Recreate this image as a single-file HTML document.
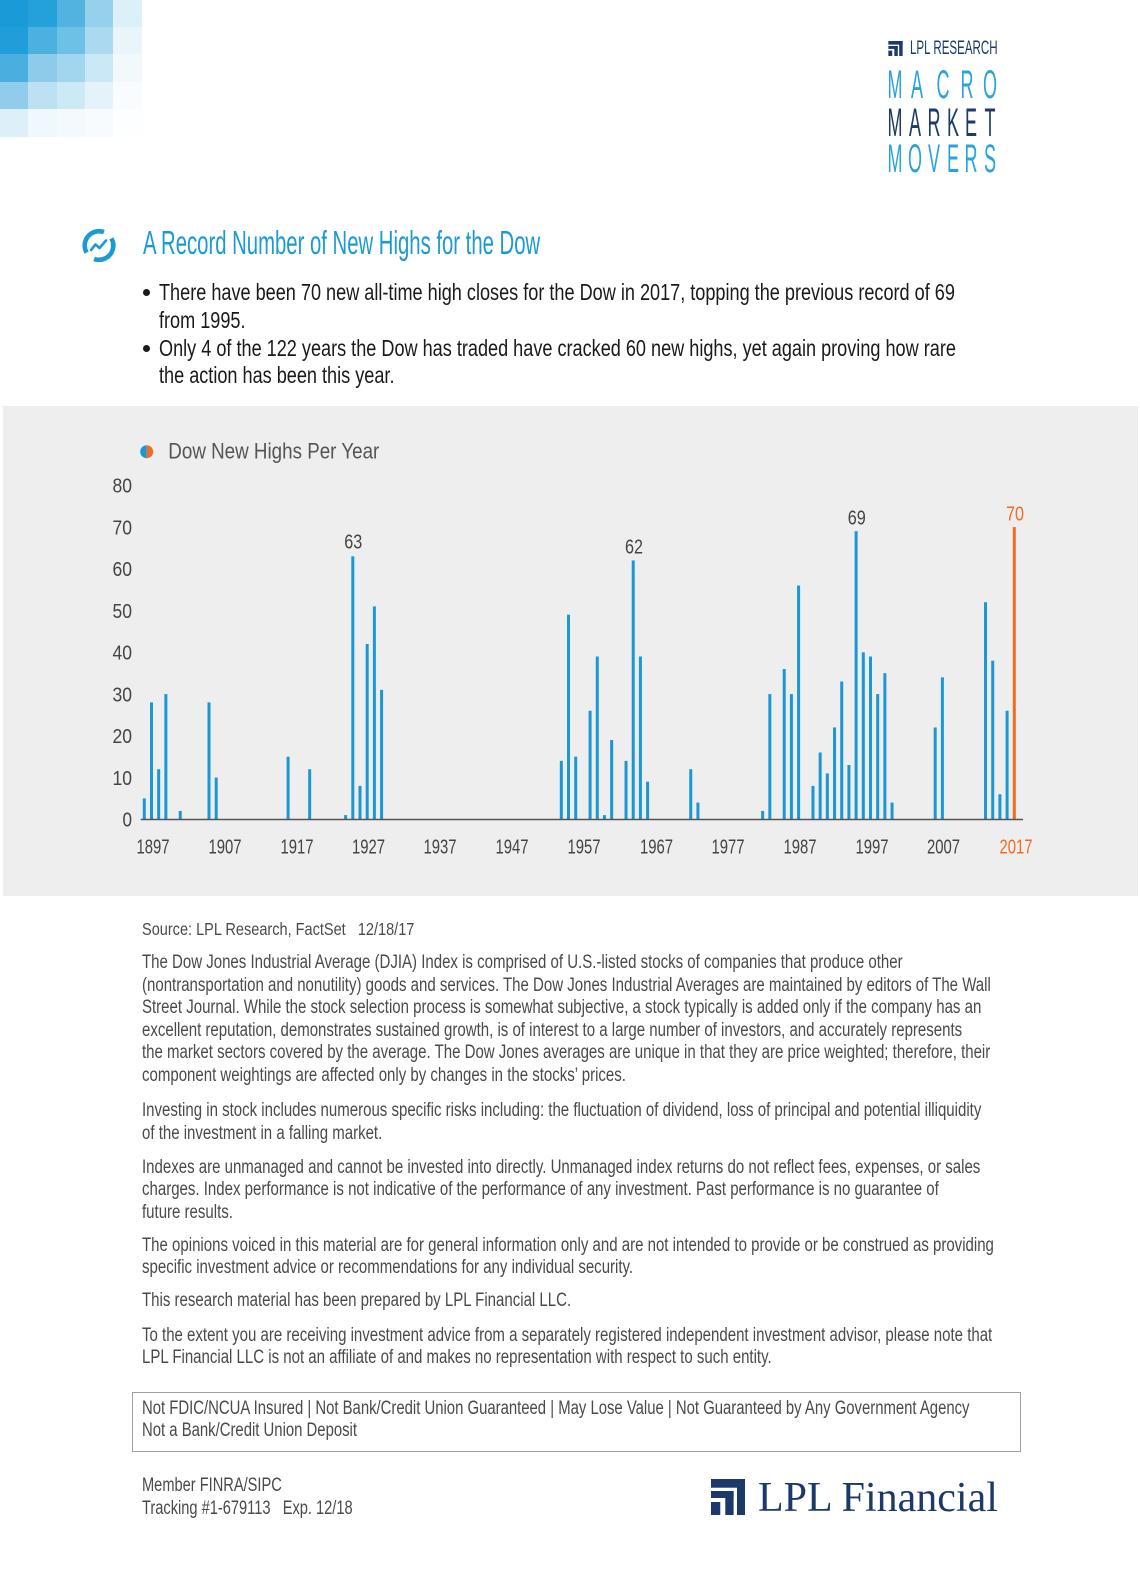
<!DOCTYPE html>
<html><head><meta charset="utf-8">
<style>
html,body{margin:0;padding:0;background:#fff;}
body{width:1140px;height:1592px;position:relative;overflow:hidden;}
.t{position:absolute;white-space:nowrap;font-family:"Liberation Sans Narrow","Liberation Sans",sans-serif;transform-origin:0 0;}
.sq{position:absolute;width:29px;height:28px;}
.L{position:absolute;width:40px;text-align:center;font-family:"Liberation Sans Narrow","Liberation Sans",sans-serif;font-size:40px;line-height:40px;transform:scaleX(0.45);transform-origin:50% 50%;}
.dot{position:absolute;width:7px;height:7px;border-radius:50%;background:#1a1a1a;}
</style></head><body>

<!-- top-left gradient squares -->
<div class="sq" style="left:0;top:0;background:#1a9ad6"></div>
<div class="sq" style="left:28px;top:0;background:#24a0da"></div>
<div class="sq" style="left:57px;top:0;background:#52b3e0"></div>
<div class="sq" style="left:85px;top:0;background:#95d0ec"></div>
<div class="sq" style="left:113px;top:0;background:#dcf0f9"></div>
<div class="sq" style="left:0;top:27px;background:#209ed9"></div>
<div class="sq" style="left:28px;top:27px;background:#4db1df"></div>
<div class="sq" style="left:57px;top:27px;background:#6dc0e6"></div>
<div class="sq" style="left:85px;top:27px;background:#abdaf0"></div>
<div class="sq" style="left:113px;top:27px;background:#e8f5fb"></div>
<div class="sq" style="left:0;top:54px;background:#4aafdf"></div>
<div class="sq" style="left:28px;top:54px;background:#8ecbea"></div>
<div class="sq" style="left:57px;top:54px;background:#a2d5ee"></div>
<div class="sq" style="left:85px;top:54px;background:#cbe8f6"></div>
<div class="sq" style="left:113px;top:54px;background:#f2f9fd"></div>
<div class="sq" style="left:0;top:82px;background:#91cdeb"></div>
<div class="sq" style="left:28px;top:82px;background:#bbe1f3"></div>
<div class="sq" style="left:57px;top:82px;background:#cce9f6"></div>
<div class="sq" style="left:85px;top:82px;background:#e4f3fa"></div>
<div class="sq" style="left:113px;top:82px;background:#f8fcfe"></div>
<div class="sq" style="left:0;top:109px;background:#ddf0f9"></div>
<div class="sq" style="left:28px;top:109px;background:#eff8fc"></div>
<div class="sq" style="left:57px;top:109px;background:#f3f9fd"></div>
<div class="sq" style="left:85px;top:109px;background:#f7fbfe"></div>
<div class="sq" style="left:113px;top:109px;background:#fcfeff"></div>

<!-- header logo -->
<svg style="position:absolute;left:888px;top:41px" width="15" height="15" viewBox="0 0 34.3 36">
<g fill="#1e3a6b"><rect x="0" y="0" width="34.3" height="8.7"/><rect x="26" y="0" width="8.3" height="36"/><rect x="0" y="12" width="22.6" height="7"/><rect x="14.3" y="12" width="8.3" height="24"/><rect x="0" y="23" width="9.3" height="13"/></g></svg>
<div class="t" style="left:910px;top:38px;font-size:19.5px;line-height:20px;color:#1e3a6b;transform:scaleX(0.593)">LPL RESEARCH</div>

<div style="color:#2aa3dc">
<div class="L" style="left:875px;top:65px">M</div>
<div class="L" style="left:896.5px;top:65px">A</div>
<div class="L" style="left:922.5px;top:65px">C</div>
<div class="L" style="left:946.7px;top:65px">R</div>
<div class="L" style="left:969.7px;top:65px">O</div>
</div>
<div style="color:#1e3a66">
<div class="L" style="left:875px;top:102.5px">M</div>
<div class="L" style="left:894.5px;top:102.5px">A</div>
<div class="L" style="left:914px;top:102.5px">R</div>
<div class="L" style="left:932.5px;top:102.5px">K</div>
<div class="L" style="left:951px;top:102.5px">E</div>
<div class="L" style="left:969.5px;top:102.5px">T</div>
</div>
<div style="color:#2aa3dc">
<div class="L" style="left:875px;top:139px">M</div>
<div class="L" style="left:894.5px;top:139px">O</div>
<div class="L" style="left:914px;top:139px">V</div>
<div class="L" style="left:932.5px;top:139px">E</div>
<div class="L" style="left:951px;top:139px">R</div>
<div class="L" style="left:969.5px;top:139px">S</div>
</div>

<!-- title icon -->
<svg style="position:absolute;left:80px;top:226px" width="40" height="40" viewBox="80 226 40 40">
<circle cx="99" cy="245.5" r="14.3" fill="none" stroke="#1a9ad6" stroke-width="4.6" stroke-dasharray="34.9 10" transform="rotate(-30 99 245.5)"/>
<polyline points="91,250 95.5,244.5 99.5,248 106,240.5" fill="none" stroke="#1a9ad6" stroke-width="2.6" stroke-linecap="round" stroke-linejoin="round"/>
</svg>
<div class="t" style="left:142.7px;top:224px;font-size:33.5px;line-height:40px;color:#1b9ad6;transform:scaleX(0.606)">A Record Number of New Highs for the Dow</div>

<!-- bullets -->
<div class="dot" style="left:143.2px;top:289.2px"></div>
<div class="dot" style="left:143.2px;top:344.8px"></div>
<div class="t" style="left:159.3px;top:279.4px;font-size:23px;line-height:27.3px;color:#1a1a1a;transform:scaleX(0.787)">There have been 70 new all-time high closes for the Dow in 2017, topping the previous record of 69<br>from 1995.</div>
<div class="t" style="left:159.3px;top:335.1px;font-size:23px;line-height:27.3px;color:#1a1a1a;transform:scaleX(0.787)">Only 4 of the 122 years the Dow has traded have cracked 60 new highs, yet again proving how rare<br>the action has been this year.</div>

<!-- chart band -->
<div style="position:absolute;left:3px;top:406px;width:1135px;height:490px;background:#eeeeee"></div>

<svg style="position:absolute;left:0;top:0" width="1140" height="900" viewBox="0 0 1140 900">
<g font-family="'Liberation Sans Narrow','Liberation Sans',sans-serif">
<!-- legend -->
<path d="M146.7,445.2 A6.5,6.5 0 0 0 146.7,458.2 Z" fill="#1a97d5"/>
<path d="M146.7,445.2 A6.5,6.5 0 0 1 146.7,458.2 Z" fill="#f26b21"/>
<text x="168.3" y="458.3" font-size="22" fill="#555" textLength="211" lengthAdjust="spacingAndGlyphs">Dow New Highs Per Year</text>
<!-- y labels -->
<g font-size="20" fill="#444" text-anchor="end">
<text x="132" y="826.5" textLength="9.5" lengthAdjust="spacingAndGlyphs">0</text>
<text x="132" y="784.75" textLength="19.5" lengthAdjust="spacingAndGlyphs">10</text>
<text x="132" y="743" textLength="19.5" lengthAdjust="spacingAndGlyphs">20</text>
<text x="132" y="701.25" textLength="19.5" lengthAdjust="spacingAndGlyphs">30</text>
<text x="132" y="659.5" textLength="19.5" lengthAdjust="spacingAndGlyphs">40</text>
<text x="132" y="617.75" textLength="19.5" lengthAdjust="spacingAndGlyphs">50</text>
<text x="132" y="576" textLength="19.5" lengthAdjust="spacingAndGlyphs">60</text>
<text x="132" y="534.25" textLength="19.5" lengthAdjust="spacingAndGlyphs">70</text>
<text x="132" y="492.5" textLength="19.5" lengthAdjust="spacingAndGlyphs">80</text>
</g>
<!-- x labels -->
<g font-size="20" fill="#444" text-anchor="middle">
<text x="153" y="853.5" textLength="33" lengthAdjust="spacingAndGlyphs">1897</text>
<text x="225" y="853.5" textLength="33" lengthAdjust="spacingAndGlyphs">1907</text>
<text x="297" y="853.5" textLength="33" lengthAdjust="spacingAndGlyphs">1917</text>
<text x="368.5" y="853.5" textLength="33" lengthAdjust="spacingAndGlyphs">1927</text>
<text x="440" y="853.5" textLength="33" lengthAdjust="spacingAndGlyphs">1937</text>
<text x="512" y="853.5" textLength="33" lengthAdjust="spacingAndGlyphs">1947</text>
<text x="584" y="853.5" textLength="33" lengthAdjust="spacingAndGlyphs">1957</text>
<text x="656.5" y="853.5" textLength="33" lengthAdjust="spacingAndGlyphs">1967</text>
<text x="728" y="853.5" textLength="33" lengthAdjust="spacingAndGlyphs">1977</text>
<text x="800" y="853.5" textLength="33" lengthAdjust="spacingAndGlyphs">1987</text>
<text x="872" y="853.5" textLength="33" lengthAdjust="spacingAndGlyphs">1997</text>
<text x="943.5" y="853.5" textLength="33" lengthAdjust="spacingAndGlyphs">2007</text>
<text x="1016" y="853.5" fill="#f26b21" textLength="33" lengthAdjust="spacingAndGlyphs">2017</text>
</g>
<!-- bars -->
<g fill="#1a97d5">
<rect x="142.8" y="798.4" width="3" height="20.9"/>
<rect x="149.99" y="702.4" width="3" height="116.9"/>
<rect x="157.18" y="769.2" width="3" height="50.1"/>
<rect x="164.37" y="694.05" width="3" height="125.25"/>
<rect x="178.75" y="810.95" width="3" height="8.35"/>
<rect x="207.51" y="702.4" width="3" height="116.9"/>
<rect x="214.7" y="777.55" width="3" height="41.75"/>
<rect x="286.6" y="756.7" width="3" height="62.6"/>
<rect x="308.17" y="769.2" width="3" height="50.1"/>
<rect x="344.12" y="815.1" width="3" height="4.2"/>
<rect x="351.31" y="556.3" width="3" height="263"/>
<rect x="358.5" y="785.9" width="3" height="33.4"/>
<rect x="365.69" y="643.95" width="3" height="175.35"/>
<rect x="372.88" y="606.4" width="3" height="212.9"/>
<rect x="380.07" y="689.9" width="3" height="129.4"/>
<rect x="559.82" y="760.85" width="3" height="58.45"/>
<rect x="567.01" y="614.7" width="3" height="204.6"/>
<rect x="574.2" y="756.7" width="3" height="62.6"/>
<rect x="588.58" y="710.75" width="3" height="108.55"/>
<rect x="595.77" y="656.5" width="3" height="162.8"/>
<rect x="602.96" y="815.1" width="3" height="4.2"/>
<rect x="610.15" y="740" width="3" height="79.3"/>
<rect x="624.53" y="760.85" width="3" height="58.45"/>
<rect x="631.72" y="560.45" width="3" height="258.85"/>
<rect x="638.91" y="656.5" width="3" height="162.8"/>
<rect x="646.1" y="781.7" width="3" height="37.6"/>
<rect x="689.24" y="769.2" width="3" height="50.1"/>
<rect x="696.43" y="802.6" width="3" height="16.7"/>
<rect x="761.14" y="810.95" width="3" height="8.35"/>
<rect x="768.33" y="694.05" width="3" height="125.25"/>
<rect x="782.71" y="669" width="3" height="150.3"/>
<rect x="789.9" y="694.05" width="3" height="125.25"/>
<rect x="797.09" y="585.5" width="3" height="233.8"/>
<rect x="811.47" y="785.9" width="3" height="33.4"/>
<rect x="818.66" y="752.5" width="3" height="66.8"/>
<rect x="825.85" y="773.4" width="3" height="45.9"/>
<rect x="833.04" y="727.45" width="3" height="91.85"/>
<rect x="840.23" y="681.5" width="3" height="137.8"/>
<rect x="847.42" y="765" width="3" height="54.3"/>
<rect x="854.61" y="531.2" width="3" height="288.1"/>
<rect x="861.8" y="652.3" width="3" height="167"/>
<rect x="868.99" y="656.5" width="3" height="162.8"/>
<rect x="876.18" y="694.05" width="3" height="125.25"/>
<rect x="883.37" y="673.2" width="3" height="146.1"/>
<rect x="890.56" y="802.6" width="3" height="16.7"/>
<rect x="933.7" y="727.45" width="3" height="91.85"/>
<rect x="940.89" y="677.35" width="3" height="141.95"/>
<rect x="984.03" y="602.2" width="3" height="217.1"/>
<rect x="991.22" y="660.65" width="3" height="158.65"/>
<rect x="998.41" y="794.25" width="3" height="25.05"/>
<rect x="1005.6" y="710.75" width="3" height="108.55"/>
</g>
<rect x="1012.79" y="527.05" width="3" height="292.25" fill="#f26b21"/>
<!-- axis -->
<line x1="140.7" y1="819.5" x2="1023" y2="819.5" stroke="#555" stroke-width="1.5"/>
<!-- data labels -->
<g font-size="20" fill="#444" text-anchor="middle">
<text x="353.3" y="548.7" textLength="18" lengthAdjust="spacingAndGlyphs">63</text>
<text x="634" y="553.7" textLength="18" lengthAdjust="spacingAndGlyphs">62</text>
<text x="856.7" y="524.3" textLength="18" lengthAdjust="spacingAndGlyphs">69</text>
<text x="1015" y="520.3" fill="#f26b21" textLength="18" lengthAdjust="spacingAndGlyphs">70</text>
</g>
</g>
</svg>

<!-- footer text -->
<div class="t" style="left:142px;top:918.4px;font-size:17.5px;line-height:22.5px;color:#4a4a4a;transform:scaleX(0.83)">Source: LPL Research, FactSet &nbsp; 12/18/17</div>
<div class="t" style="left:142px;top:952.2px;font-size:19px;line-height:22.5px;color:#4a4a4a;transform:scaleX(0.79)">The Dow Jones Industrial Average (DJIA) Index is comprised of U.S.-listed stocks of companies that produce other<br>(nontransportation and nonutility) goods and services. The Dow Jones Industrial Averages are maintained by editors of The Wall<br>Street Journal. While the stock selection process is somewhat subjective, a stock typically is added only if the company has an<br>excellent reputation, demonstrates sustained growth, is of interest to a large number of investors, and accurately represents<br>the market sectors covered by the average. The Dow Jones averages are unique in that they are price weighted; therefore, their<br>component weightings are affected only by changes in the stocks’ prices.</div>
<div class="t" style="left:142px;top:1100px;font-size:19px;line-height:22.5px;color:#4a4a4a;transform:scaleX(0.79)">Investing in stock includes numerous specific risks including: the fluctuation of dividend, loss of principal and potential illiquidity<br>of the investment in a falling market.</div>
<div class="t" style="left:142px;top:1156.7px;font-size:19px;line-height:22.5px;color:#4a4a4a;transform:scaleX(0.79)">Indexes are unmanaged and cannot be invested into directly. Unmanaged index returns do not reflect fees, expenses, or sales<br>charges. Index performance is not indicative of the performance of any investment. Past performance is no guarantee of<br>future results.</div>
<div class="t" style="left:142px;top:1234.7px;font-size:19px;line-height:22.5px;color:#4a4a4a;transform:scaleX(0.79)">The opinions voiced in this material are for general information only and are not intended to provide or be construed as providing<br>specific investment advice or recommendations for any individual security.</div>
<div class="t" style="left:142px;top:1290.2px;font-size:19px;line-height:22.5px;color:#4a4a4a;transform:scaleX(0.79)">This research material has been prepared by LPL Financial LLC.</div>
<div class="t" style="left:142px;top:1324.9px;font-size:19px;line-height:22.5px;color:#4a4a4a;transform:scaleX(0.79)">To the extent you are receiving investment advice from a separately registered independent investment advisor, please note that<br>LPL Financial LLC is not an affiliate of and makes no representation with respect to such entity.</div>

<!-- disclaimer box -->
<div style="position:absolute;left:132px;top:1392px;width:887px;height:58px;border:1px solid #a0a0a0"></div>
<div class="t" style="left:142px;top:1398px;font-size:19px;line-height:22.3px;color:#4a4a4a;transform:scaleX(0.783)">Not FDIC/NCUA Insured | Not Bank/Credit Union Guaranteed | May Lose Value | Not Guaranteed by Any Government Agency<br>Not a Bank/Credit Union Deposit</div>

<div class="t" style="left:142px;top:1473.5px;font-size:19px;line-height:23.2px;color:#4a4a4a;transform:scaleX(0.77)">Member FINRA/SIPC<br>Tracking #1-679113 &nbsp; Exp. 12/18</div>

<!-- LPL Financial logo -->
<svg style="position:absolute;left:710.7px;top:1479px" width="34.3" height="36" viewBox="0 0 34.3 36">
<g fill="#1b3a6b"><rect x="0" y="0" width="34.3" height="8.7"/><rect x="26" y="0" width="8.3" height="36"/><rect x="0" y="12" width="22.6" height="7"/><rect x="14.3" y="12" width="8.3" height="24"/><rect x="0" y="23" width="9.3" height="13"/></g></svg>
<div style="position:absolute;left:758px;top:1475px;font-family:'Liberation Serif',serif;font-size:42px;line-height:46px;color:#1b3a6b;white-space:nowrap">LPL Financial</div>

</body></html>
